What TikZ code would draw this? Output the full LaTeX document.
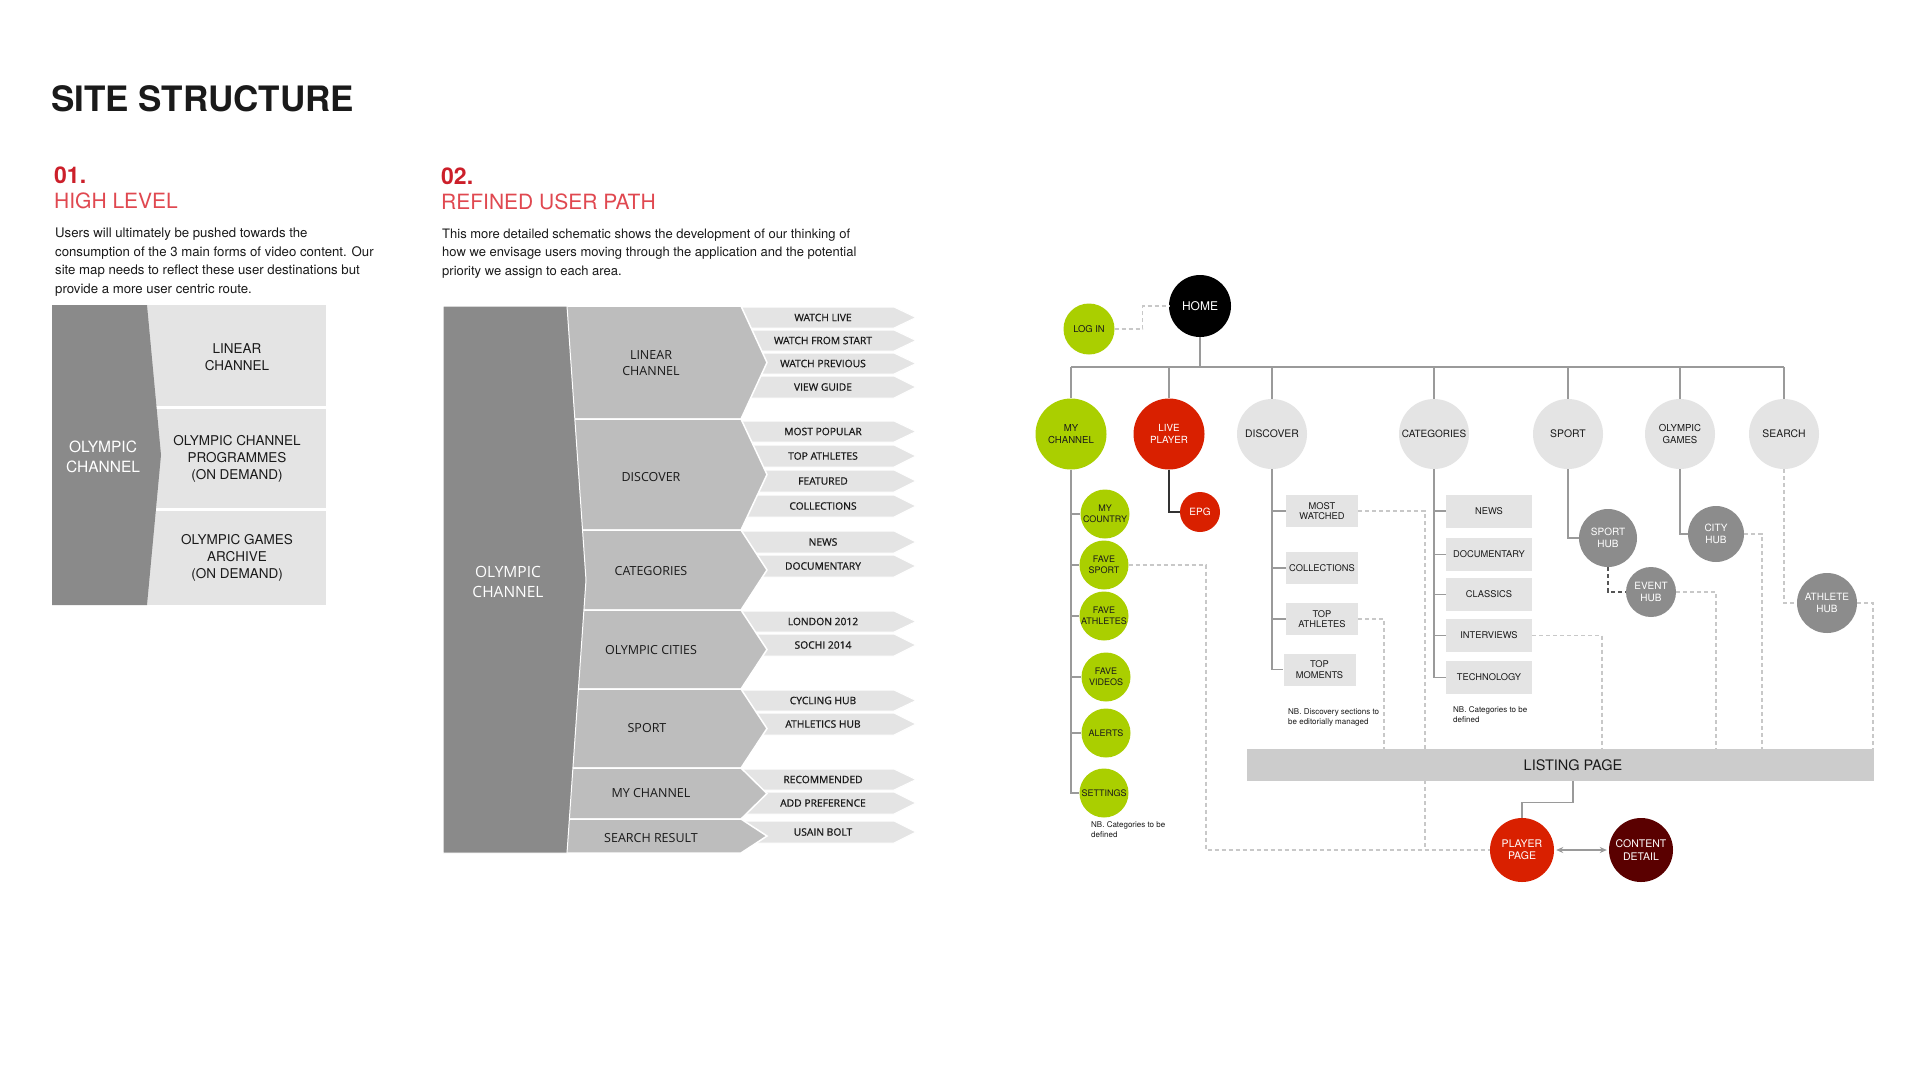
\documentclass[tikz,border=0pt]{standalone}
\usepackage{fontspec}
\setmainfont{TeX Gyre Heros}
\newfontfamily\osans{Open Sans}
\newfontfamily\osanssb[FakeBold=0.8]{Open Sans}
\usetikzlibrary{calc,arrows.meta}
\definecolor{ocred}{HTML}{CC1F2A}
\definecolor{oclight}{HTML}{E04850}
\definecolor{bgdark}{HTML}{8A8A8A}
\definecolor{bgmid}{HTML}{BDBDBD}
\definecolor{bglight}{HTML}{E4E4E4}
\definecolor{ocgreen}{HTML}{AACF00}
\definecolor{ocred2}{HTML}{D92000}
\definecolor{ocmaroon}{HTML}{5A0000}
\definecolor{linegrey}{HTML}{9A9A9A}
\definecolor{dashgrey}{HTML}{C8C8C8}
\definecolor{darkdash}{HTML}{555555}
\definecolor{hubgrey}{HTML}{8C8C8C}
\definecolor{bargrey}{HTML}{CCCCCC}
\definecolor{txtdark}{HTML}{1A1A1A}
\newcommand\arrowbox[4]{%
  \fill[bglight, draw=white, line width=1pt] (741,#1) -- (894,#1) -- (916,{(#1+#2)/2}) -- (894,#2) -- (741,#2) -- cycle;
  \node[itemlbl] (#3) at (823,{(#1+#2)/2}) {#4};}
\newcommand\midchev[2]{%
  \fill[bgmid, draw=white, line width=1.5pt] (540,#1) -- (741,#1) -- (767,{(#1+#2)/2}) -- (741,#2) -- (540,#2) -- cycle;}
\begin{document}
\begin{tikzpicture}[x=1pt,y=-1pt,
  tx/.style={inner sep=0pt, text=txtdark},
  itemlbl/.style={inner sep=0pt, text=txtdark, font=\osanssb\fontsize{10.3}{12}\selectfont},
  midlbl/.style={inner sep=0pt, text=txtdark, align=center, font=\osans\fontsize{12.5}{15.5}\selectfont},
  circ/.style={circle, inner sep=0pt, align=center},
  bigc/.style={circ, minimum size=70pt, fill=bglight, text=txtdark, font=\fontsize{10.4}{12}\selectfont},
  greenc/.style={circ, minimum size=49pt, fill=ocgreen, text=txtdark, font=\fontsize{9}{10.5}\selectfont},
  hub/.style={circ, fill=hubgrey, text=white, font=\fontsize{10}{11.5}\selectfont},
  sbox/.style={rectangle, fill=bglight, inner sep=0pt, align=center, text=txtdark, font=\fontsize{9.3}{10.8}\selectfont},
  catbox/.style={sbox, minimum width=86pt, minimum height=33pt},
  discbox/.style={sbox, minimum width=72pt, minimum height=32pt},
  treeline/.style={draw=linegrey, line width=1.2pt},
  dsh/.style={draw=dashgrey, line width=1.1pt, dash pattern=on 4pt off 3pt},
  nbtext/.style={inner sep=0pt, align=left, text=txtdark, font=\fontsize{8}{10}\selectfont, anchor=north west}
]
\useasboundingbox (0,0) rectangle (1920,1080);
\fill[white] (0,0) rectangle (1920,1080);

% ---------- headings ----------
\node[tx, anchor=base west, font=\bfseries\fontsize{35}{38}\selectfont] (title) at (51,111) {SITE STRUCTURE};
\node[inner sep=0pt, anchor=base west, text=ocred, font=\bfseries\fontsize{23}{26}\selectfont] (h1num) at (54,183) {01.};
\node[inner sep=0pt, anchor=base west, text=oclight, font=\fontsize{21}{24}\selectfont] (h1) at (54,208) {HIGH LEVEL};
\node[tx, anchor=north west, align=left, font=\fontsize{13.2}{18.5}\selectfont] (p1) at (55,228)
 {Users will ultimately be pushed towards the\\consumption of the 3 main forms of video content. Our\\site map needs to reflect these user destinations but\\provide a more user centric route.};
\node[inner sep=0pt, anchor=base west, text=ocred, font=\bfseries\fontsize{23}{26}\selectfont] (h2num) at (441,184) {02.};
\node[inner sep=0pt, anchor=base west, text=oclight, font=\fontsize{21}{24}\selectfont] (h2) at (441,209) {REFINED USER PATH};
\node[tx, anchor=north west, align=left, font=\fontsize{13}{18.2}\selectfont] (p2) at (442,229)
 {This more detailed schematic shows the development of our thinking of\\how we envisage users moving through the application and the potential\\priority we assign to each area.};

% ---------- 01 high level ----------
\fill[bglight] (147,305) rectangle (326,406);
\fill[bglight] (147,409) rectangle (326,508);
\fill[bglight] (147,511) rectangle (326,605);
\fill[bgdark] (52,305) -- (147,305) -- (161,455) -- (147,605) -- (52,605) -- cycle;
\node[tx, align=center, font=\fontsize{13.5}{16.7}\selectfont] (hlA) at (237,357) {LINEAR\\CHANNEL};
\node[tx, align=center, font=\fontsize{13.5}{16.7}\selectfont] (hlB) at (237,459) {OLYMPIC CHANNEL\\PROGRAMMES\\(ON DEMAND)};
\node[tx, align=center, font=\fontsize{13.5}{16.7}\selectfont] (hlC) at (237,558) {OLYMPIC GAMES\\ARCHIVE\\(ON DEMAND)};
\node[inner sep=0pt, text=white, align=center, font=\fontsize{15.5}{20.5}\selectfont] (hlM) at (103,457) {OLYMPIC\\CHANNEL};

% ---------- 02 refined user path ----------
\arrowbox{307}{328}{i1}{WATCH LIVE}
\arrowbox{330}{351}{i2}{WATCH FROM START}
\arrowbox{353}{374}{i3}{WATCH PREVIOUS}
\arrowbox{376}{398}{i4}{VIEW GUIDE}
\arrowbox{421}{442}{i5}{MOST POPULAR}
\arrowbox{445}{467}{i6}{TOP ATHLETES}
\arrowbox{470}{492}{i7}{FEATURED}
\arrowbox{495}{517}{i8}{COLLECTIONS}
\arrowbox{531}{553}{i9}{NEWS}
\arrowbox{555}{577}{i10}{DOCUMENTARY}
\arrowbox{611}{632}{i11}{LONDON 2012}
\arrowbox{634}{656}{i12}{SOCHI 2014}
\arrowbox{690}{711}{i13}{CYCLING HUB}
\arrowbox{713}{735}{i14}{ATHLETICS HUB}
\arrowbox{769}{790}{i15}{RECOMMENDED}
\arrowbox{792}{814}{i16}{ADD PREFERENCE}
\arrowbox{821}{843}{i17}{USAIN BOLT}
\midchev{306}{419}
\midchev{419}{530}
\midchev{530}{610}
\midchev{610}{689}
\midchev{689}{768}
\midchev{768}{819}
\midchev{819}{853}
\fill[bgdark, draw=white, line width=1pt] (443,306) -- (567,306) -- (586,580) -- (567,853) -- (443,853) -- cycle;
\node[midlbl] (m1) at (651,363) {LINEAR\\CHANNEL};
\node[midlbl] (m2) at (651,477) {DISCOVER};
\node[midlbl] (m3) at (651,571) {CATEGORIES};
\node[midlbl] (m4) at (651,650) {OLYMPIC CITIES};
\node[midlbl] (m5) at (647,728) {SPORT};
\node[midlbl] (m6) at (651,793) {MY CHANNEL};
\node[midlbl] (m7) at (651,838) {SEARCH RESULT};
\node[inner sep=0pt, text=white, align=center, font=\osans\fontsize{15.5}{20}\selectfont] (mmain) at (508,582) {OLYMPIC\\CHANNEL};

% ---------- site map: nodes ----------
\coordinate (busy) at (1200,367);
\coordinate (dA) at (1384,749);
\coordinate (dB) at (1602,749);
\coordinate (dC) at (1716,749);
\coordinate (dD) at (1762,749);
\coordinate (dE) at (1873,749);
\coordinate (dMW) at (1425,850);
\coordinate (dFS) at (1206,850);

\node[circ, minimum size=62pt, fill=black, text=white, font=\fontsize{12}{14}\selectfont] (home) at (1200,306) {HOME};
\node[greenc, minimum size=51pt, font=\fontsize{9.4}{11}\selectfont] (login) at (1089,329) {LOG IN};

\node[greenc, minimum size=71pt, font=\fontsize{9.6}{11.5}\selectfont] (mychannel) at (1071,434) {MY\\CHANNEL};
\node[circ, minimum size=71pt, fill=ocred2, text=white, font=\fontsize{9.8}{11.5}\selectfont] (liveplayer) at (1169,434) {LIVE\\PLAYER};
\node[bigc] (discover) at (1272,434) {DISCOVER};
\node[bigc, font=\fontsize{10}{12}\selectfont] (categories) at (1434,434) {CATEGORIES};
\node[bigc] (sport) at (1568,434) {SPORT};
\node[bigc, font=\fontsize{9.6}{11.5}\selectfont] (olympicgames) at (1680,434) {OLYMPIC\\GAMES};
\node[bigc] (search) at (1784,434) {SEARCH};

\node[greenc] (mycountry) at (1105,514) {MY\\COUNTRY};
\node[greenc] (favesport) at (1104,565) {FAVE\\SPORT};
\node[greenc] (faveathletes) at (1104,616) {FAVE\\ATHLETES};
\node[greenc] (favevideos) at (1106,677) {FAVE\\VIDEOS};
\node[greenc] (alerts) at (1106,733) {ALERTS};
\node[greenc] (settings) at (1104,793) {SETTINGS};
\node[circ, minimum size=40pt, fill=ocred2, text=white, font=\fontsize{10}{12}\selectfont] (epg) at (1200,512) {EPG};

\node[discbox] (mostwatched) at (1322,511) {MOST\\WATCHED};
\node[discbox] (collections) at (1322,568) {COLLECTIONS};
\node[discbox] (topathletes) at (1322,619) {TOP\\ATHLETES};
\node[discbox] (topmoments) at (1319.5,669.5) {TOP\\MOMENTS};

\node[catbox] (news) at (1489,511) {NEWS};
\node[catbox] (documentary) at (1489,554.5) {DOCUMENTARY};
\node[catbox] (classics) at (1489,594.5) {CLASSICS};
\node[catbox] (interviews) at (1489,635.5) {INTERVIEWS};
\node[catbox] (technology) at (1489,677.5) {TECHNOLOGY};

\node[hub, minimum size=58pt] (sporthub) at (1608,538) {SPORT\\HUB};
\node[hub, minimum size=50pt] (eventhub) at (1651,592) {EVENT\\HUB};
\node[hub, minimum size=56pt] (cityhub) at (1716,534) {CITY\\HUB};
\node[hub, minimum size=60pt] (athletehub) at (1827,603) {ATHLETE\\HUB};

\node[circ, minimum size=64pt, fill=ocred2, text=white, font=\fontsize{10.5}{12.5}\selectfont] (playerpage) at (1522,850) {PLAYER\\PAGE};
\node[circ, minimum size=64pt, fill=ocmaroon, text=white, font=\fontsize{10.5}{12.5}\selectfont] (contentdetail) at (1641,850) {CONTENT\\DETAIL};

\node[nbtext] (nb1) at (1091,821) {NB. Categories to be\\defined};
\node[nbtext] (nb2) at (1288,708) {NB. Discovery sections to\\be editorially managed};
\node[nbtext] (nb3) at (1453,706) {NB. Categories to be\\defined};

% ---------- connectors ----------
\draw[dsh] (login.east) -- ++(28,0) |- (home.west);
\draw[dsh] (favesport.east) -| (dFS) -- (playerpage.west);
\draw[dsh] (mostwatched.east) -| (dMW);
\draw[dsh] (topathletes.east) -| (dA);
\draw[dsh] (interviews.east) -| (dB);
\draw[dsh] (eventhub.east) -| (dC);
\draw[dsh] (cityhub.east) -| (dD);
\draw[dsh] (search.south) |- (athletehub.west);
\draw[dsh] (athletehub.east) -| (dE);
\draw[dsh, draw=darkdash] (sporthub.south) |- (eventhub.west);

\draw[treeline] (home.south) -- (busy);
\draw[treeline] (mychannel.north |- busy) -- (search.north |- busy);
\foreach \X in {mychannel,liveplayer,discover,categories,sport,olympicgames,search}
  \draw[treeline] (\X.north |- busy) -- (\X.north);
\draw[treeline] (mychannel.south) |- (settings.west);
\foreach \X in {mycountry,favesport,faveathletes,favevideos,alerts}
  \draw[treeline] (mychannel.south |- \X.west) -- (\X.west);
\draw[draw=black!80, line width=1.2pt] (liveplayer.south) |- (epg.west);
\draw[treeline] (discover.south) |- (topmoments.west);
\foreach \X in {mostwatched,collections,topathletes}
  \draw[treeline] (discover.south |- \X.west) -- (\X.west);
\draw[treeline] (categories.south) |- (technology.west);
\foreach \X in {news,documentary,classics,interviews}
  \draw[treeline] (categories.south |- \X.west) -- (\X.west);
\draw[treeline] (sport.south) |- (sporthub.west);
\draw[treeline] (olympicgames.south) |- (cityhub.west);

% listing bar on top of dashed ends
\node[rectangle, fill=bargrey, minimum width=627pt, minimum height=32pt, inner sep=0pt] (listingbar) at (1560.5,765) {};
\node[tx, font=\fontsize{14.5}{16}\selectfont] (listing) at (1573,765) {LISTING PAGE};
\draw[treeline] (listing |- listingbar.south) -- ++(0,21) -| (playerpage.north);
\draw[draw=linegrey, line width=1.1pt, shorten <=2pt, shorten >=2pt, {Stealth[length=7pt,width=6pt]}-{Stealth[length=7pt,width=6pt]}] (playerpage.east) -- (contentdetail.west);
\end{tikzpicture}
\end{document}
